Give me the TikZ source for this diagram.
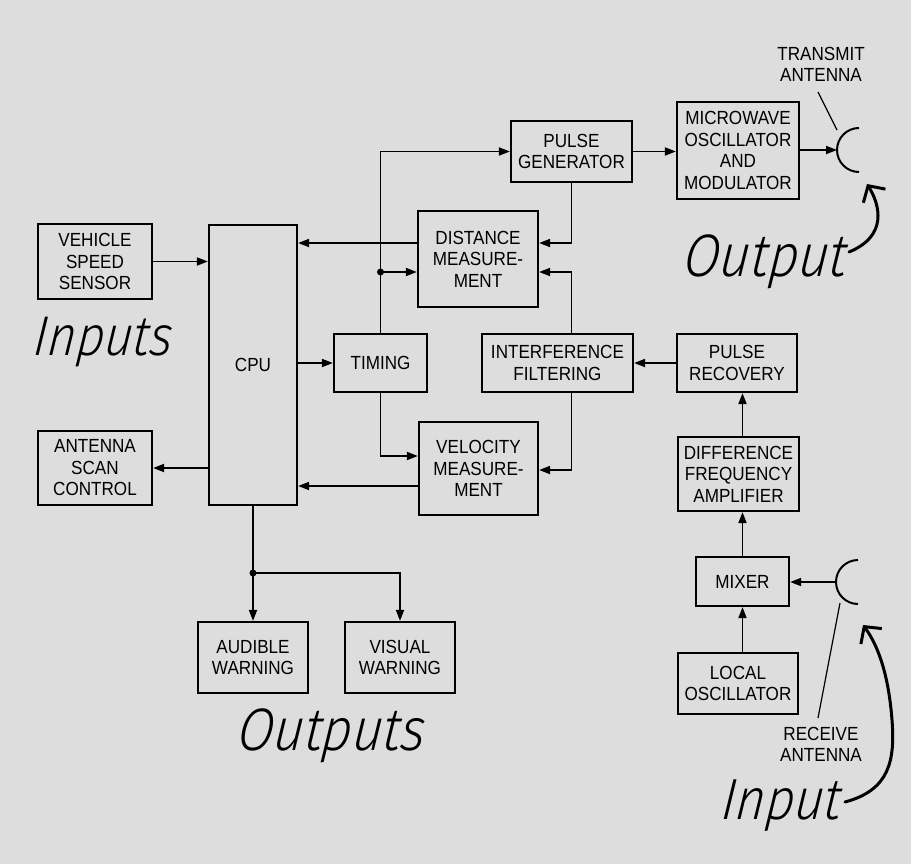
\documentclass[tikz,border=0pt]{standalone}
\usepackage{fontspec}
\usetikzlibrary{arrows.meta}
\newfontfamily\boxfont{Liberation Sans}[FakeStretch=0.9]
\newfontfamily\hand{Fira Sans Light Italic}[FakeSlant=0.12, FakeStretch=0.88]
\definecolor{bg}{HTML}{DDDDDD}
\tikzset{
  blk/.style={draw, line width=2.2pt, inner sep=0pt, align=center,
    font=\boxfont\fontsize{19}{21.5}\selectfont},
  lbl/.style={inner sep=0pt, align=center, font=\boxfont\fontsize{19}{21}\selectfont},
  arr/.style={line width=1.8pt, -{Triangle[length=11pt,width=8pt]}},
  hw/.style={inner sep=0pt, font=\hand\fontsize{56}{60}\selectfont},
  harr/.style={line width=3pt, line cap=round, line join=round,
    -{Straight Barb[length=12pt,width=26pt,line width=3pt]}},
  ant/.style={line width=2pt},
  dot/.style={circle, fill, inner sep=0pt, minimum size=7pt}
}
\begin{document}
\begin{tikzpicture}[x=1pt,y=-1pt]
\fill[bg] (0,0) rectangle (911,864);
\useasboundingbox (0,0) rectangle (911,864);

% boxes
\node[blk, minimum width=121, minimum height=61] (pg) at (571.5,151.5) {PULSE\\GENERATOR};
\node[blk, minimum width=122, minimum height=97] (mw) at (738,150.5) {MICROWAVE\\OSCILLATOR\\AND\\MODULATOR};
\node[blk, minimum width=114, minimum height=75] (vss) at (95,261.5) {VEHICLE\\SPEED\\SENSOR};
\node[blk, minimum width=88, minimum height=280] (cpu) at (253,365) {CPU};
\node[blk, minimum width=93, minimum height=58] (tim) at (380.5,363) {TIMING};
\node[blk, minimum width=120, minimum height=96] (dm) at (478,259) {DISTANCE\\MEASURE-\\MENT};
\node[blk, minimum width=151, minimum height=58] (if) at (557.5,363) {INTERFERENCE\\FILTERING};
\node[blk, minimum width=120, minimum height=58] (pr) at (737,363) {PULSE\\RECOVERY};
\node[blk, minimum width=119, minimum height=93] (vm) at (478.5,468.5) {VELOCITY\\MEASURE-\\MENT};
\node[blk, minimum width=114, minimum height=74] (asc) at (95,468) {ANTENNA\\SCAN\\CONTROL};
\node[blk, minimum width=121, minimum height=74] (dfa) at (738.5,474) {DIFFERENCE\\FREQUENCY\\AMPLIFIER};
\node[blk, minimum width=93, minimum height=49] (mix) at (742.5,581.5) {MIXER};
\node[blk, minimum width=120, minimum height=61] (lo) at (738,683.5) {LOCAL\\OSCILLATOR};
\node[blk, minimum width=110, minimum height=71] (aw) at (253,657.5) {AUDIBLE\\WARNING};
\node[blk, minimum width=110, minimum height=71] (vw) at (400,657.5) {VISUAL\\WARNING};

% antennas
\coordinate (ta) at (837,150);
\coordinate (ra) at (836,582);
\draw[ant] (859,128) arc[start angle=-90, end angle=-270, radius=22];
\draw[ant] (858,560) arc[start angle=-90, end angle=-270, radius=22];
\node[lbl] (tal) at (821,64) {TRANSMIT\\ANTENNA};
\node[lbl] (ral) at (821,744) {RECEIVE\\ANTENNA};
\coordinate (tl1) at (818,92);
\coordinate (tl2) at (837,130);
\draw[line width=1.2pt] (tl1) -- (tl2);
\coordinate (rl1) at (840,603);
\coordinate (rl2) at (818,718);
\draw[line width=1.2pt] (rl1) -- (rl2);

% connectors
\draw[arr] (vss.east) -- (vss.east -| cpu.west);
\draw[arr] (cpu.west |- asc.east) -- (asc.east);
\draw[arr] (cpu.east |- tim.west) -- (tim.west);
\coordinate (y243) at (0,243);
\coordinate (y272) at (0,272);
\coordinate (y456) at (0,456);
\coordinate (y486) at (0,486);
\coordinate (y470) at (0,470);
\draw[arr] (dm.west |- y243) -- (cpu.east |- y243);
\draw[arr] (tim.north) |- (pg.west);
\coordinate (j1) at (tim.north |- y272);
\node[dot] (j1d) at (j1) {};
\draw[arr] (j1) -- (j1 -| dm.west);
\draw[arr] (tim.south) |- (vm.west |- y456);
\draw[arr] (vm.west |- y486) -- (cpu.east |- y486);
\draw[arr] (pg.south) |- (dm.east |- y243);
\draw[arr] (if.north -| pg.south) |- (dm.east |- y272);
\draw[arr] (if.south -| pg.south) |- (vm.east |- y470);
\draw[arr] (pr.west) -- (if.east);
\draw[arr] (mix.north |- dfa.north) -- (mix.north |- pr.south);
\draw[arr] (mix.north) -- (mix.north |- dfa.south);
\draw[arr] (mix.south |- lo.north) -- (mix.south);
\draw[arr] (pg.east) -- (pg.east -| mw.west);
\draw[arr] (mw.east |- ta) -- (ta);
\draw[arr] (ra) -- (ra -| mix.east);
\coordinate (j2) at (253,573);
\draw[arr] (cpu.south) -- (aw.north);
\node[dot] (j2d) at (j2) {};
\draw[arr] (j2) -| (vw.north);

% handwritten labels
\node[hw] (hin) at (102,342) {Inputs};
\node[hw, font=\hand\fontsize{60}{64}\selectfont] (hout) at (764,262) {Output};
\node[hw, font=\hand\fontsize{60}{64}\selectfont] (houts) at (330,736) {Outputs};
\node[hw, font=\hand\fontsize{58}{60}\selectfont] (hinp) at (780,806) {Input};

\coordinate (oS) at (849,252);
\coordinate (oT) at (867,184);
\draw[harr] (oS) .. controls (888,236) and (880,205) .. (oT);
\coordinate (iS) at (845,802);
\coordinate (iT) at (863,625);
\draw[harr] (iS) .. controls (890,790) and (895,760) .. (892,720) .. controls (889,680) and (880,648) .. (iT);
\end{tikzpicture}
\end{document}
